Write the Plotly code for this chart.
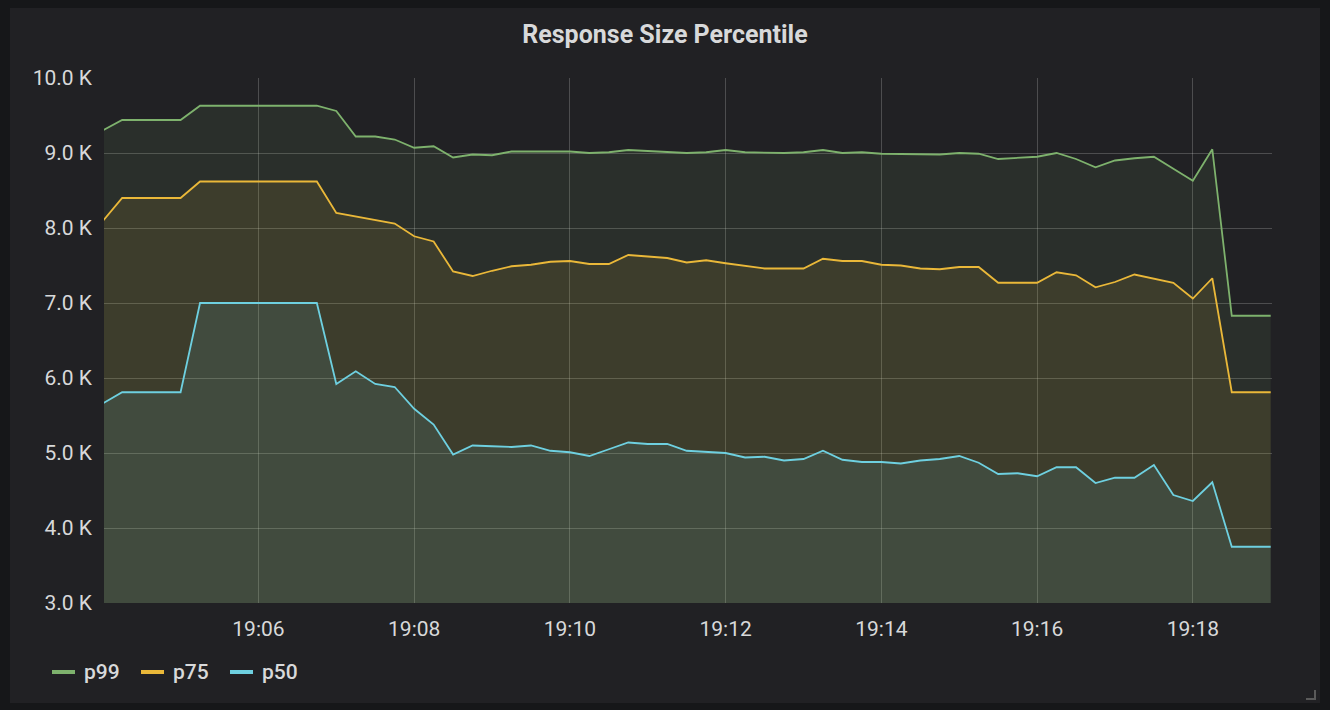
import pandas as pd
import plotly.graph_objects as go

# sample times, one point every 15 s
times = pd.date_range("2018-03-01 19:04:00", "2018-03-01 19:19:00", freq="15s")

# response size percentiles, in K
p99 = [9.30, 9.44, 9.44, 9.44, 9.44, 9.63, 9.63, 9.63, 9.63, 9.63, 9.63, 9.63,
       9.56, 9.22, 9.22, 9.18, 9.07, 9.09, 8.94, 8.98, 8.97,
       9.02, 9.02, 9.02, 9.02, 9.00, 9.01, 9.04, 9.03, 9.02, 9.00, 9.01, 9.04,
       9.01, 9.00, 9.00, 9.01, 9.04, 9.00, 9.01,
       8.99, 8.99, 8.98, 8.98, 9.00, 8.99, 8.92, 8.94, 8.95, 9.00, 8.92, 8.81,
       8.90, 8.93, 8.95, 8.79, 8.63, 9.05, 6.83, 6.83, 6.83]
p75 = [8.09, 8.40, 8.40, 8.40, 8.40, 8.62, 8.62, 8.62, 8.62, 8.62, 8.62, 8.62,
       8.20, 8.15, 8.10, 8.06, 7.89, 7.82, 7.42, 7.36, 7.43,
       7.49, 7.51, 7.55, 7.56, 7.52, 7.52, 7.64, 7.62, 7.60, 7.54, 7.57, 7.53,
       7.49, 7.46, 7.46, 7.46, 7.59, 7.56, 7.56,
       7.51, 7.50, 7.46, 7.45, 7.48, 7.48, 7.27, 7.27, 7.27, 7.41, 7.37, 7.21,
       7.28, 7.38, 7.33, 7.27, 7.06, 7.33, 5.81, 5.81, 5.81]
p50 = [5.66, 5.81, 5.81, 5.81, 5.81, 7.00, 7.00, 7.00, 7.00, 7.00, 7.00, 7.00,
       5.92, 6.09, 5.92, 5.88, 5.59, 5.38, 4.98, 5.10, 5.09,
       5.08, 5.10, 5.03, 5.01, 4.96, 5.05, 5.14, 5.12, 5.12, 5.03, 5.01, 5.00,
       4.94, 4.95, 4.90, 4.92, 5.03, 4.91, 4.88,
       4.88, 4.86, 4.90, 4.92, 4.96, 4.87, 4.72, 4.73, 4.69, 4.81, 4.81, 4.60,
       4.67, 4.67, 4.84, 4.44, 4.36, 4.61, 3.75, 3.75, 3.75]

series = [("p99", p99, "#7EB26D", "rgba(126,178,109,0.1)"),
          ("p75", p75, "#EAB839", "rgba(234,184,57,0.1)"),
          ("p50", p50, "#6ED0E0", "rgba(110,208,224,0.1)")]

PANEL = "#212124"
TEXT = "#d8d9da"
GRID = "rgba(255,255,255,0.2)"

# plot area in pixels (used to place panel/legend bits in paper coords)
L, R, T, B = 104, 1272, 78, 603
PW, PH = R - L, B - T


def px(x):
    return (x - L) / PW


def py(y):
    return (B - y) / PH


fig = go.Figure()
for name, vals, color, fillc in series:
    fig.add_trace(go.Scatter(x=times, y=vals, name=name, mode="lines",
                             line=dict(color=color, width=1.8),
                             fill="tozeroy", fillcolor=fillc, showlegend=False))

shapes = [
    dict(type="rect", xref="paper", yref="paper", layer="below",
         x0=px(10), x1=px(1320), y0=py(703), y1=py(8),
         fillcolor=PANEL, line=dict(width=0)),
    # resize handle in the corner
    dict(type="path", xref="paper", yref="paper",
         path="M %f %f L %f %f L %f %f" % (px(1315), py(690), px(1315), py(699),
                                           px(1306), py(699)),
         line=dict(color="#5a5a5a", width=2)),
]
annotations = []
# grafana style legend: short thick bar + name
for i, (name, vals, color, fillc) in enumerate(series):
    x0 = 52 + 89 * i
    shapes.append(dict(type="line", xref="paper", yref="paper",
                       x0=px(x0), x1=px(x0 + 23), y0=py(672), y1=py(672),
                       line=dict(color=color, width=4)))
    annotations.append(dict(text=name, xref="paper", yref="paper",
                            x=px(x0 + 30), y=py(672), xanchor="left", yanchor="middle",
                            showarrow=False, font=dict(size=21, color=TEXT, weight=500)))

fig.update_layout(
    width=1330, height=710,
    margin=dict(l=L, r=1330 - R, t=T, b=710 - B),
    paper_bgcolor="#161719", plot_bgcolor=PANEL,
    font=dict(family="Roboto", color=TEXT, size=21),
    title=dict(text="Response Size Percentile", x=0.5, xanchor="center",
               y=1 - 34 / 710, yanchor="middle", yref="container",
               font=dict(size=25, color=TEXT, weight="bold")),
    showlegend=False,
    shapes=shapes, annotations=annotations,
)
fig.update_xaxes(type="date", range=["2018-03-01 19:04:01", "2018-03-01 19:19:01"],
                 tick0="2018-03-01 19:06:00", dtick=120000, tickformat="%H:%M",
                 showgrid=True, gridcolor=GRID, gridwidth=1,
                 zeroline=False, showline=False, ticks="", ticklabelstandoff=11,
                 tickfont=dict(size=21, color=TEXT))
fig.update_yaxes(range=[3, 10], dtick=1, tick0=3, tickformat=".1f", ticksuffix=" K",
                 showgrid=True, gridcolor=GRID, gridwidth=1,
                 zeroline=False, showline=False, ticks="", ticklabelstandoff=11,
                 tickfont=dict(size=21, color=TEXT))

fig.write_html("out.html", config={"displayModeBar": False},
               post_script="document.body.style.margin='0';"
                           "document.body.style.background='#161719';")
